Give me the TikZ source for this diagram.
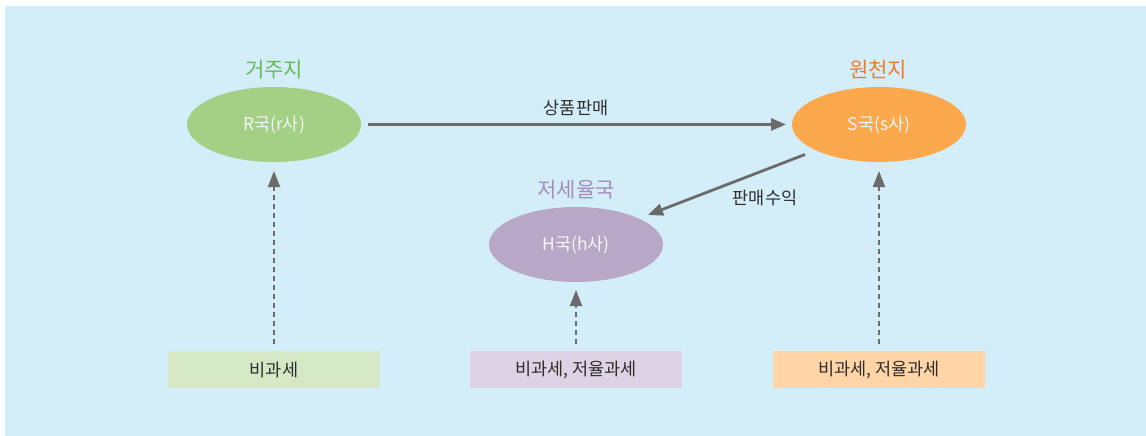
\documentclass[tikz,border=0pt]{standalone}
\usepackage{fontspec}
\setmainfont{Noto Sans CJK KR}
\usetikzlibrary{arrows.meta,shapes.geometric}
\definecolor{bgblue}{HTML}{D4EEF9}
\definecolor{lineg}{HTML}{6B6B6B}
\definecolor{ellg}{HTML}{A3D084}
\definecolor{ello}{HTML}{FBA94C}
\definecolor{ellp}{HTML}{B8A7C6}
\definecolor{boxg}{HTML}{D5E8C6}
\definecolor{boxo}{HTML}{FFD5A7}
\definecolor{boxp}{HTML}{DDD3E4}
\definecolor{labg}{HTML}{66BB55}
\definecolor{labo}{HTML}{F07C2A}
\definecolor{labp}{HTML}{A68DBB}
\definecolor{txt}{HTML}{2E2E2E}
\tikzset{
  ell/.style={ellipse, minimum width=174pt, minimum height=75pt, inner sep=0pt,
    text=white!96!black, font=\fontsize{17.5}{19}\selectfont},
  taxbox/.style={minimum width=212pt, minimum height=37pt, inner sep=0pt,
    text=txt, font=\fontsize{17.5}{19}\selectfont},
  toplab/.style={font=\fontsize{21}{23}\selectfont},
  flow/.style={draw=lineg, line width=2.8pt, -{Triangle[length=15pt,width=12pt]}},
  dflow/.style={draw=lineg, line width=1.8pt, dash pattern=on 5pt off 4pt,
    -{Triangle[length=16pt,width=12pt]}},
  elab/.style={text=txt, font=\fontsize{17.5}{19}\selectfont}
}
\begin{document}
\begin{tikzpicture}[x=1pt,y=-1pt]
\useasboundingbox (0,0) rectangle (1146,436);
\fill[bgblue] (5,6) rectangle (1146,436);

\node[ell, fill=ellg] (R) at (274,124.5) {R국(r사)};
\node[ell, fill=ello] (S) at (879,124.5) {S국(s사)};
\node[ell, fill=ellp] (H) at (576,244.5) {H국(h사)};

\node[toplab, text=labg] (Rl) at (274,70) {거주지};
\node[toplab, text=labo] (Sl) at (878,70) {원천지};
\node[toplab, text=labp] (Hl) at (576,190) {저세율국};

\node[taxbox, fill=boxg] (Rb) at (274,369.5) {비과세};
\node[taxbox, fill=boxp] (Hb) at (576,369.5) {비과세, 저율과세};
\node[taxbox, fill=boxo] (Sb) at (879,369.5) {비과세, 저율과세};

\coordinate (a1) at (368,124.5);
\coordinate (a2) at (786,124.5);
\draw[flow] (a1) -- (a2);
\node[elab] (m1) at (576,108) {상품판매};

\coordinate (b1) at (805,154.5);
\coordinate (b2) at (648,215);
\draw[flow] (b1) -- (b2);
\node[elab] (m2) at (765,198) {판매수익};

\coordinate (rt) at (274,171);
\coordinate (rb) at (274,344);
\draw[dflow] (rb) -- (rt);
\coordinate (ht) at (576,290);
\coordinate (hb) at (576,344);
\draw[dflow] (hb) -- (ht);
\coordinate (st) at (879,171);
\coordinate (sb) at (879,344);
\draw[dflow] (sb) -- (st);
\end{tikzpicture}
\end{document}
